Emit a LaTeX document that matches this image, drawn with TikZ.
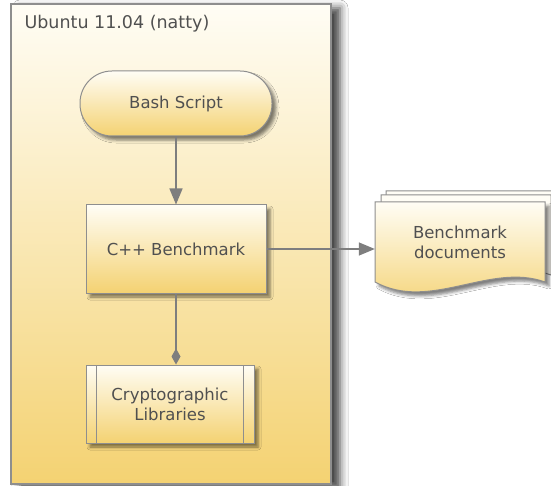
\documentclass[tikz,border=0pt]{standalone}
\usepackage{fontspec}
\setmainfont{DejaVu Sans}
\usetikzlibrary{arrows.meta,shadows.blur,positioning}

\definecolor{paleyellow}{HTML}{FFFDF5}
\definecolor{goldyellow}{HTML}{F4D272}
\definecolor{framegray}{HTML}{8E8E8E}
\definecolor{linegray}{HTML}{7E7E7E}
\definecolor{textgray}{HTML}{505050}

\tikzset{
  boxfont/.style={font=\fontsize{16.5}{20}\selectfont, text=textgray, align=center},
  goldfill/.style={top color=paleyellow, bottom color=goldyellow, draw=framegray, line width=1pt},
  softshadow/.style={blur shadow={shadow xshift=4pt, shadow yshift=-4pt, shadow blur radius=3pt, shadow opacity=50}},
  osframe/.style={goldfill, line width=1.3pt, minimum width=320pt, minimum height=480pt, inner sep=0pt,
    blur shadow={shadow xshift=9pt, shadow yshift=-4pt, shadow blur radius=8pt, shadow opacity=75}},
  termbox/.style={goldfill, softshadow, boxfont, minimum width=192pt, minimum height=65pt, rounded corners=32pt},
  procbox/.style={goldfill, softshadow, boxfont, minimum width=180pt, minimum height=88pt},
  libbox/.style={goldfill, softshadow, boxfont, minimum width=168pt, minimum height=78pt,
    path picture={
      \draw[framegray] ([xshift=10pt]path picture bounding box.north west) -- ([xshift=10pt]path picture bounding box.south west);
      \draw[framegray] ([xshift=-11pt]path picture bounding box.north east) -- ([xshift=-11pt]path picture bounding box.south east);
    }},
  docpage/.style={goldfill},
  backpage/.style={fill=paleyellow, draw=framegray, line width=1pt},
  docbox/.style={boxfont, minimum width=170pt, minimum height=80pt},
  flowline/.style={draw=linegray, line width=1.4pt},
}

\begin{document}
\begin{tikzpicture}[x=1pt, y=-1pt]
\useasboundingbox (0,0) rectangle (551,486);
\fill[white] (0,0) rectangle (551,486);

% operating system frame
\node[osframe] (os) at (171,244) {};
\node[boxfont, font=\fontsize{17.5}{20}\selectfont, anchor=west] (ostitle) at (21,24) {Ubuntu 11.04 (natty)};

\node[termbox] (bash) at (176,103.5) {Bash Script};
\node[procbox] (cpp) at (176,249) {C++ Benchmark};
\node[libbox] (crypto) at (170,404) {Cryptographic\\Libraries};

% stacked documents
\foreach \dx/\dy in {11/-11, 6/-7} {
  \path[backpage, shift={(\dx,\dy)}] (375,202) -- (545,202) -- (545,282)
    .. controls (490,262) and (430,312) .. (375,282) -- cycle;
}
\path[docpage, softshadow] (375,202) -- (545,202) -- (545,282)
  .. controls (490,262) and (430,312) .. (375,282) -- cycle;
\node[docbox] (docs) at (460,242) {Benchmark\\documents};

% connectors
\draw[flowline, -{Triangle[length=16pt,width=13pt]}] (bash) -- (cpp);
\draw[flowline, -{Triangle[length=16pt,width=13pt]}] (cpp.east) -- (cpp.east -| docs.west);
\draw[flowline, -{Diamond[length=16pt,width=9pt]}] (cpp.south) -- (cpp.south |- crypto.north);
\end{tikzpicture}
\end{document}
